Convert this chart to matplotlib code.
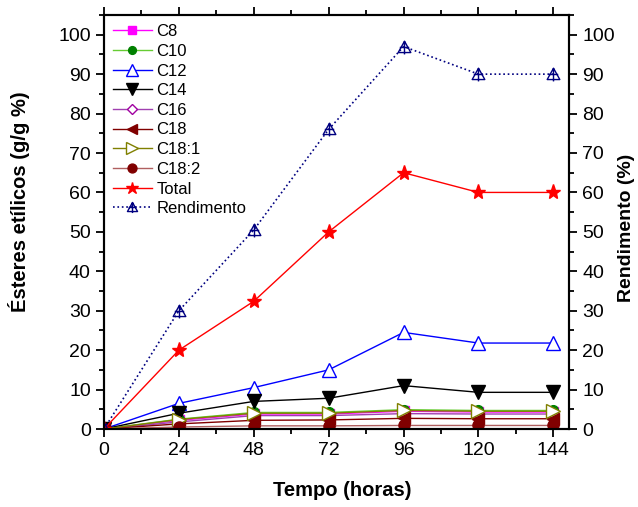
import matplotlib
matplotlib.use("Agg")
import matplotlib.pyplot as plt
from matplotlib.path import Path
from matplotlib.ticker import MultipleLocator
import numpy as np

plt.rcParams['font.family'] = ['Liberation Sans', 'DejaVu Sans']

tempo = [0, 24, 48, 72, 96, 120, 144]
c8 = [0, 2.2, 3.8, 3.8, 4.5, 4.3, 4.3]
c10 = [0, 2.5, 4.2, 4.2, 4.9, 4.7, 4.7]
c12 = [0, 6.5, 10.5, 15.0, 24.5, 21.8, 21.8]
c14 = [0, 4.0, 7.0, 7.8, 11.0, 9.3, 9.3]
c16 = [0, 1.8, 3.4, 3.4, 3.9, 3.8, 3.8]
c18 = [0, 1.3, 2.2, 2.3, 2.7, 2.6, 2.6]
c18_1 = [0, 2.4, 4.0, 4.0, 4.7, 4.5, 4.5]
c18_2 = [0, 0.5, 0.8, 0.8, 0.9, 0.9, 0.9]
total = [0, 20.0, 32.4, 50.0, 65.0, 60.0, 60.0]
rendimento = [0, 30.0, 50.5, 76.0, 97.0, 90.0, 90.0]

# triangle with cross marker
verts = [(0, 1), (-1, -0.8), (1, -0.8), (0, 1), (0, 1), (0, -1.1), (-0.75, 0), (0.75, 0)]
codes = [Path.MOVETO, Path.LINETO, Path.LINETO, Path.CLOSEPOLY,
         Path.MOVETO, Path.LINETO, Path.MOVETO, Path.LINETO]
tri_cross = Path(verts, codes)

fig = plt.figure(figsize=(6.38, 5.07), dpi=100)
ax = fig.add_axes([104/638, 1 - 429/507, (569-104)/638, (429-15)/507])

ms = 8
ax.plot(tempo, c8, '-', color='#ff00ff', marker='s', ms=ms-1, mfc='#ff00ff', mec='#ff00ff', lw=1, label='C8')
ax.plot(tempo, c10, '-', color='#66cc33', marker='o', ms=ms-1, mfc='#008000', mec='#008000', lw=1, label='C10')
ax.plot(tempo, c12, '-', color='#0000ff', marker='^', ms=ms+2, mfc='white', mec='#0000ff', lw=1, label='C12')
ax.plot(tempo, c14, '-', color='#000000', marker='v', ms=ms+2, mfc='#000000', mec='#000000', lw=1, label='C14')
ax.plot(tempo, c16, '-', color='#a040b0', marker='D', ms=ms-2, mfc='white', mec='#a000a0', lw=1, label='C16')
ax.plot(tempo, c18, '-', color='#800000', marker='<', ms=ms+1, mfc='#800000', mec='#800000', lw=1, label='C18')
ax.plot(tempo, c18_1, '-', color='#808000', marker='>', ms=ms+2, mfc='white', mec='#808000', lw=1, label='C18:1')
ax.plot(tempo, c18_2, '-', color='#b06060', marker='o', ms=ms, mfc='#800000', mec='#800000', lw=1, label='C18:2')
ax.plot(tempo, total, '-', color='#ff0000', marker='*', ms=ms+3, mfc='#ff0000', mec='#ff0000', lw=1, label='Total')

ax2 = ax.twinx()
l2, = ax2.plot(tempo, rendimento, ':', color='#000080', marker=tri_cross, ms=ms+2, mfc='none', mec='#000080', lw=1.2, label='Rendimento')

for a in (ax, ax2):
    a.set_ylim(0, 105)
    a.set_xlim(0, 149)
    a.yaxis.set_major_locator(MultipleLocator(10))
    a.yaxis.set_minor_locator(MultipleLocator(5))
    for s in a.spines.values():
        s.set_linewidth(1.5)

ax.xaxis.set_major_locator(MultipleLocator(24))
ax.xaxis.set_minor_locator(MultipleLocator(12))
ax.set_xticks(tempo)
ax.tick_params(axis='both', which='major', direction='out', length=6, width=1.3, labelsize=14)
ax.tick_params(axis='both', which='minor', direction='out', length=3.5, width=1.3)
ax.tick_params(axis='x', which='both', top=True)
ax2.tick_params(axis='y', which='major', direction='out', length=6, width=1.3, labelsize=14)
ax2.tick_params(axis='y', which='minor', direction='out', length=3.5, width=1.3)

ax.set_xlabel('Tempo (horas)', fontsize=14.5, fontweight='bold', labelpad=16)
ax.set_ylabel('Ésteres etílicos (g/g %)', fontsize=14.5, fontweight='bold', labelpad=20)
ax2.set_ylabel('Rendimento (%)', fontsize=14, fontweight='bold', labelpad=2)
ax.yaxis.label.set_y(0.548)
ax2.yaxis.label.set_y(0.486)
ax.xaxis.label.set_x(0.512)

handles, labels = ax.get_legend_handles_labels()
handles.append(l2)
labels.append('Rendimento')
ax.legend(handles, labels, loc='upper left', bbox_to_anchor=(0.0, 1.0), frameon=False,
          fontsize=12, handlelength=2.3, handletextpad=0.3, labelspacing=0.28, borderaxespad=0.15,
          markerscale=0.8)

fig.savefig('out.png', dpi=100)
